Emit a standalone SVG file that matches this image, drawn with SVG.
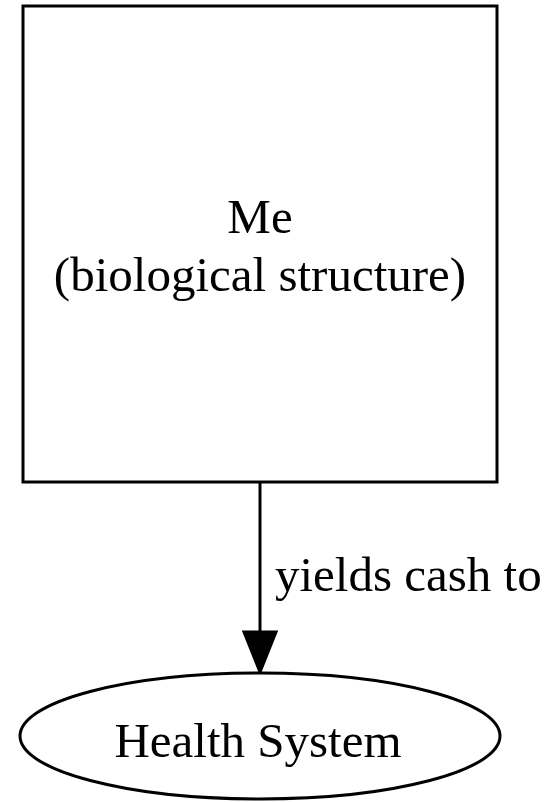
<svg xmlns="http://www.w3.org/2000/svg" width="550" height="802" viewBox="0 0 550 802">
<style>
.shape{fill:#ffffff;stroke:#000000;stroke-width:3}
.lbl{font-family:"Liberation Serif","Times New Roman",serif;font-size:49px;fill:#000000}
.edge{stroke:#000000;stroke-width:3;fill:none}
</style>
<defs>
<marker id="arrowhead" viewBox="-2 -2 44 36" refX="40" refY="16" markerWidth="44" markerHeight="36" markerUnits="userSpaceOnUse" orient="auto">
<polygon points="0,0 40,16 0,32" fill="#000000" stroke="#000000" stroke-width="3" stroke-linejoin="miter"/>
</marker>
</defs>
<rect width="550" height="802" fill="#ffffff"/>
<g id="connectors">
<line class="edge" x1="260" y1="482" x2="260" y2="672" marker-end="url(#arrowhead)"/>
<text class="lbl" x="275" y="591">yields cash to</text>
</g>
<g id="me">
<rect class="shape" x="23" y="6" width="474" height="476"/>
<text class="lbl" x="260" y="233" text-anchor="middle">Me</text>
<text class="lbl" x="260" y="291" text-anchor="middle">(biological structure)</text>
</g>
<g id="health">
<ellipse class="shape" cx="260" cy="736" rx="240" ry="63"/>
<text class="lbl" x="258" y="757" text-anchor="middle">Health System</text>
</g>
</svg>
